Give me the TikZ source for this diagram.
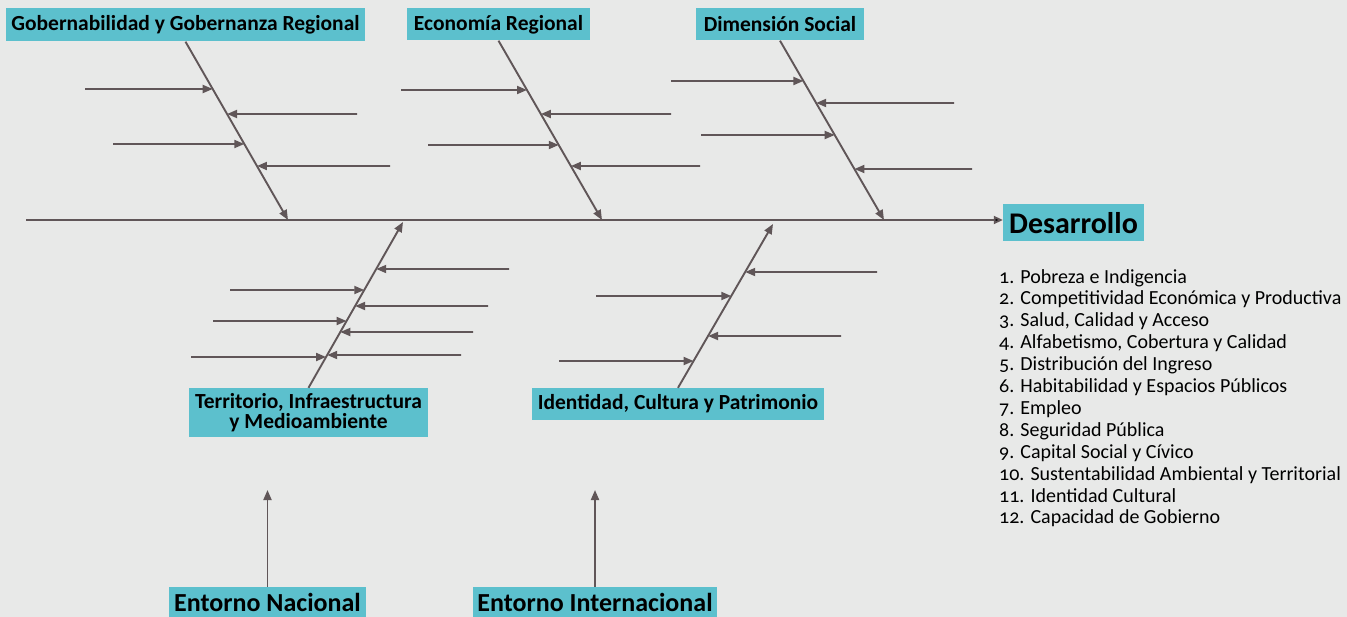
\documentclass[tikz,border=0pt]{standalone}
\usepackage{fontspec}
\setmainfont{Carlito}[Numbers=OldStyle]
\usetikzlibrary{arrows.meta,positioning,calc}
\definecolor{bgGrey}{HTML}{E8E9E8}
\definecolor{boxTeal}{HTML}{5CC0CD}
\definecolor{boneGrey}{HTML}{605658}

\tikzset{
  box/.style={fill=boxTeal, inner sep=0pt, align=center, font=\bfseries\fontsize{21.5}{23}\selectfont},
  bone/.style={draw=boneGrey, line width=1.9pt, -{Triangle[length=10pt,width=8pt,fill=boneGrey]}},
  rib/.style={bone}
}

\begin{document}
\begin{tikzpicture}[x=1pt, y=-1pt]

  % Canvas
  \useasboundingbox (0,0) rectangle (1347,617);
  \clip (0,0) rectangle (1347,617);
  \fill[bgGrey] (0,0) rectangle (1347,617);

  % Define nodes
  \node[box, minimum width=359, minimum height=33] (gob) at (185.5,25) {Gobernabilidad y Gobernanza Regional};
  \node[box, minimum width=183, minimum height=32] (eco) at (498.5,24.5) {Economía Regional};
  \node[box, minimum width=168, minimum height=32] (dim) at (780,24.5) {Dimensión Social};
  \node[box, minimum width=141, minimum height=37, font=\bfseries\fontsize{30}{32}\selectfont] (des) at (1073.5,223) {Desarrollo};
  \node[box, minimum width=239, minimum height=49, font=\bfseries\fontsize{21.5}{20}\selectfont] (terr) at (308.5,412.5) {Territorio, Infraestructura\\y Medioambiente};
  \node[box, minimum width=292, minimum height=32] (iden) at (678,404) {Identidad, Cultura y Patrimonio};
  \node[box, minimum width=197, minimum height=30, font=\bfseries\fontsize{26}{28}\selectfont] (nac) at (267.5,602) {Entorno Nacional};
  \node[box, minimum width=244, minimum height=30, font=\bfseries\fontsize{26}{28}\selectfont] (int) at (595,602) {Entorno Internacional};

  \node[anchor=north west, align=left, inner sep=0pt, font=\fontsize{20}{21.9}\selectfont] (lista) at (999,269)
    {1. Pobreza e Indigencia\\
     2. Competitividad Económica y Productiva\\
     3. Salud, Calidad y Acceso\\
     4. Alfabetismo, Cobertura y Calidad\\
     5. Distribución del Ingreso\\
     6. Habitabilidad y Espacios Públicos\\
     7. Empleo\\
     8. Seguridad Pública\\
     9. Capital Social y Cívico\\
     10. Sustentabilidad Ambiental y Territorial\\
     11. Identidad Cultural\\
     12. Capacidad de Gobierno};

  % Spine points
  \coordinate (cola) at (26,220);
  \coordinate (g) at (288,220);
  \coordinate (e) at (602,220);
  \coordinate (d) at (884,220);
  \coordinate (t) at (403,222);
  \coordinate (i) at (773,224);
  \coordinate (n) at (0,490);

  % Connect the nodes
  \draw[bone, -{Triangle[length=9pt,width=8pt,fill=black]}] (cola) -- (cola -| des.west);
  \draw[bone] (gob.south) -- (g);
  \draw[bone] (eco.south) -- (e);
  \draw[bone] (dim.south) -- (d);
  \draw[bone] (terr.north) -- (t);
  \draw[bone] (iden.north) -- (i);
  \draw[bone] (nac.north) -- (nac.north |- n);
  \draw[bone] (int.north) -- (int.north |- n);

  % Ribs
  \foreach \xs/\y [count=\k] in {85/89, 357/114, 113/144, 390/166}{
    \coordinate (gr\k) at (\xs,\y);
    \draw[rib] (gr\k) -- (intersection of gob.south--g and 0,\y--1,\y);
  }
  \foreach \xs/\y [count=\k] in {401/90, 671/114, 428/145, 700/166}{
    \coordinate (er\k) at (\xs,\y);
    \draw[rib] (er\k) -- (intersection of eco.south--e and 0,\y--1,\y);
  }
  \foreach \xs/\y [count=\k] in {671/81, 954/103, 701/135, 972/169}{
    \coordinate (dr\k) at (\xs,\y);
    \draw[rib] (dr\k) -- (intersection of dim.south--d and 0,\y--1,\y);
  }
  \foreach \xs/\y [count=\k] in {509/269, 230/290, 488/306, 213/321, 473/332, 191/357, 461/355}{
    \coordinate (tr\k) at (\xs,\y);
    \draw[rib] (tr\k) -- (intersection of terr.north--t and 0,\y--1,\y);
  }
  \foreach \xs/\y [count=\k] in {877/272, 596/296, 841/336, 559/361}{
    \coordinate (ir\k) at (\xs,\y);
    \draw[rib] (ir\k) -- (intersection of iden.north--i and 0,\y--1,\y);
  }

\end{tikzpicture}
\end{document}
